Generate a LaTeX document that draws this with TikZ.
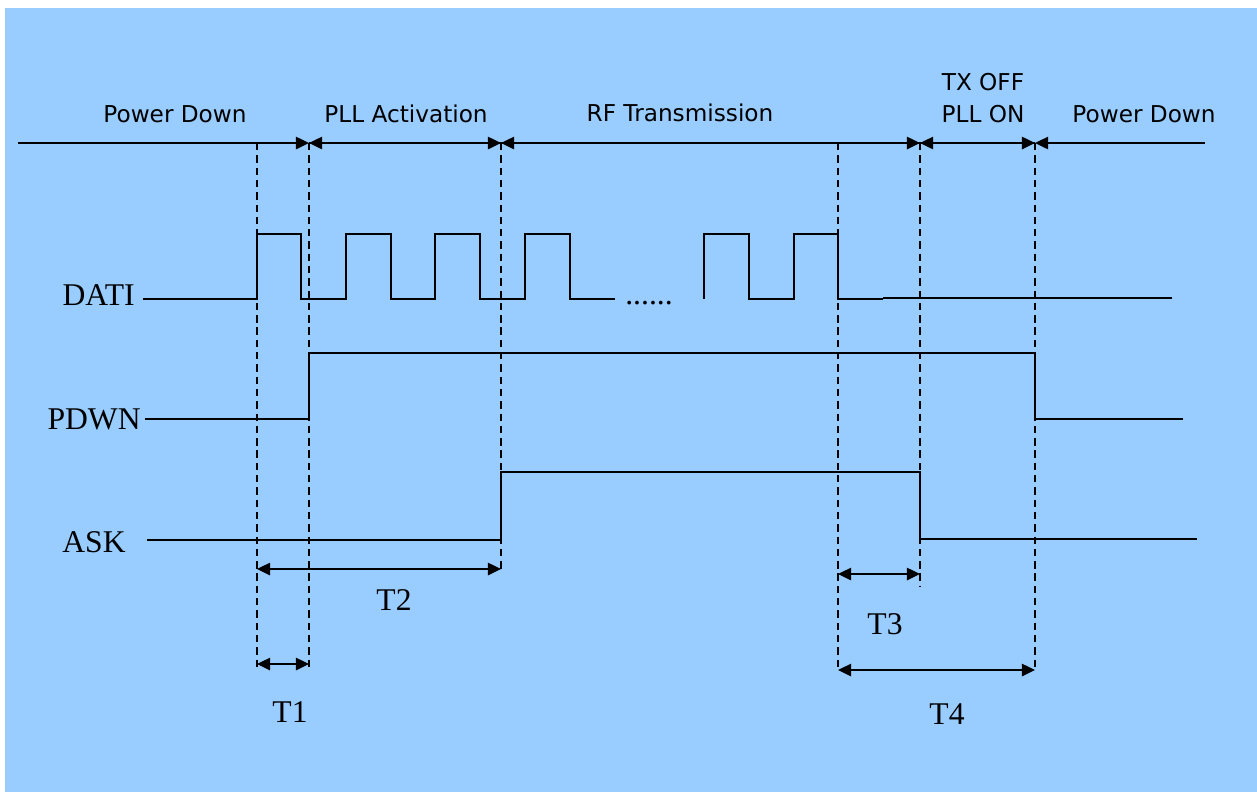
\documentclass[tikz,border=0pt]{standalone}
\usepackage{fontspec}
\setmainfont{Liberation Serif}
\newfontfamily\lblfont{DejaVu Sans}
\usetikzlibrary{arrows.meta}
\definecolor{bgblue}{HTML}{99CCFF}
\begin{document}
\begin{tikzpicture}[x=0.02cm,y=-0.02cm,
  sig/.style={line width=1.1pt},
  guide/.style={line width=1pt,dash pattern=on 4.2pt off 2.8pt},
  tip/.style={-{Triangle[length=7.5pt,width=7pt]}},
  dim/.style={line width=1.2pt,{Triangle[length=7.5pt,width=7pt]}-{Triangle[length=7.5pt,width=7pt]}},
  phase/.style={font=\lblfont\fontsize{13.2pt}{15.5pt}\selectfont,anchor=base,inner sep=0pt},
  sname/.style={font=\fontsize{18pt}{20pt}\selectfont,anchor=base east,inner sep=0pt},
  tname/.style={font=\fontsize{18pt}{20pt}\selectfont,anchor=base,inner sep=0pt}]
\useasboundingbox (0,0) rectangle (1257,792);
\fill[white] (0,0) rectangle (1257,792);
\fill[bgblue] (5,8) rectangle (1257,792);
% time marks
\coordinate (ta) at (257,143);
\coordinate (tb) at (309,143);
\coordinate (tc) at (501,143);
\coordinate (td) at (838,143);
\coordinate (te) at (920,143);
\coordinate (tf) at (1035,143);
\coordinate (tl) at (18,143);
\coordinate (tr) at (1205,143);
% phase labels
\node[phase] (pd1) at (175,122) {Power Down};
\node[phase] (pll) at (406,122) {PLL Activation};
\node[phase] (rf) at (680,121) {RF Transmission};
\node[phase] (tx) at (983,90) {TX OFF};
\node[phase] (pon) at (983,122) {PLL ON};
\node[phase] (pd2) at (1144,122) {Power Down};
% phase arrows
\draw[line width=1.2pt,tip] (tl) -- (tb);
\draw[line width=1.2pt,tip] (tb) -- (tc);
\draw[line width=1.2pt,tip] (tc) -- (td) -- (te);
\draw[line width=1.2pt,tip] (tc) -- (tb);
\draw[line width=1.2pt,tip] (te) -- (tc);
\draw[line width=1.2pt,tip] (te) -- (tf);
\draw[line width=1.2pt,tip] (tf) -- (te);
\draw[line width=1.2pt,tip] (tr) -- (tf);
% dashed guides
\draw[guide] (ta) -- (257,668);
\draw[guide] (tb) -- (309,668);
\draw[guide] (tc) -- (501,570);
\draw[guide] (td) -- (838,671);
\draw[guide] (te) -- (920,586);
\draw[guide] (tf) -- (1035,671);
% signal names
\node[sname] (dati) at (135,305) {DATI};
\node[sname] (pdwn) at (141,429) {PDWN};
\node[sname] (ask) at (126,552) {ASK};
% DATI
\draw[sig] (dati.base east) ++(8,-6) coordinate (d0) -- (257,299) -- (257,234) -- (301,234) -- (301,299) -- (346,299) -- (346,234) -- (391,234) -- (391,299) -- (435,299) -- (435,234) -- (480,234) -- (480,299) -- (525,299) -- (525,234) -- (570,234) -- (570,299) -- (615,299);
\node[tname] (dots) at (649,304) {......};
\draw[sig] (704,299) -- (704,234) -- (749,234) -- (749,299) -- (794,299) -- (794,234) -- (838,234) -- (838,299) -- (883,299);
\draw[sig] (883,298) -- (1172,298);
% PDWN
\draw[sig] (pdwn.base east) ++(4,-10) coordinate (p0) -- (309,419) -- (309,353) -- (1035,353) -- (1035,419) -- (1183,419);
% ASK
\draw[sig] (147,540) coordinate (a0) -- (501,540) -- (501,472) -- (920,472) -- (920,539) -- (1197,539);
% dimensions
\draw[dim] (257,569) -- (501,569);
\node[tname] (t2) at (394,610) {T2};
\draw[dim] (257,664) -- (309,664);
\node[tname] (t1) at (290,722) {T1};
\draw[dim] (838,574) -- (920,574);
\node[tname] (t3) at (885,634) {T3};
\draw[dim] (838,670) -- (1035,670);
\node[tname] (t4) at (947,724) {T4};
\end{tikzpicture}
\end{document}
